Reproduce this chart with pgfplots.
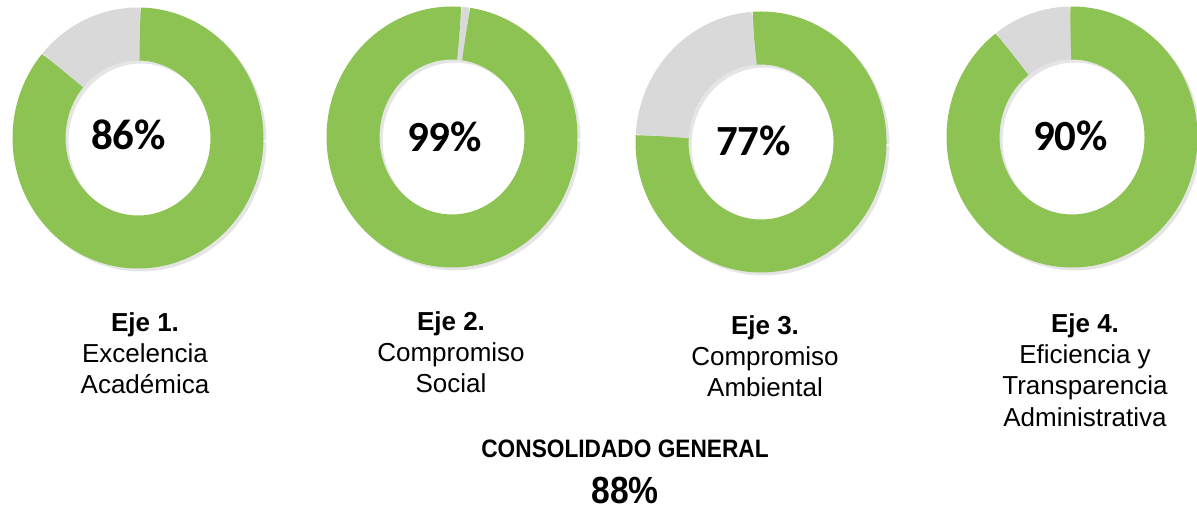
\documentclass[border=0pt]{standalone}
\usepackage{pgfplots}
\pgfplotsset{compat=1.18}
\usepackage{graphicx}
\usepackage{fontspec}
\setmainfont{Liberation Sans}
\newfontfamily\calib{Carlito}
\definecolor{ringgreen}{RGB}{141,195,82}
\definecolor{ringgray}{RGB}{217,217,217}

% one donut: centre x, centre y, value (%), start angle
\newcommand\donut[4]{%
  \addplot[domain=0:100, samples=120, line width=26.5pt, black, opacity=0.10, line join=round]
    ({#1+3+99*cos(3.6*x)}, {#2-3+104*sin(3.6*x)});
  \addplot[domain=0:#3, samples=150, line width=26.5pt, ringgreen]
    ({#1+99*cos(#4-3.6*x)}, {#2+104*sin(#4-3.6*x)});
  \addplot[domain=#3:100, samples=30, line width=26.5pt, ringgray]
    ({#1+99*cos(#4-3.6*x)}, {#2+104*sin(#4-3.6*x)});
}

\begin{document}
\begin{tikzpicture}
\useasboundingbox (0,0) rectangle (598.5pt,254pt);
\begin{axis}[
  at={(0,0)}, anchor=south west,
  scale only axis, width=598.5pt, height=254pt,
  xmin=0, xmax=1197, ymin=0, ymax=508,
  hide axis, clip=false,
]
\donut{138}{370}{86}{89}
\donut{452}{371}{99}{82}
\donut{761}{366}{77}{94}
\donut{1072}{371}{90}{91}

% centre values
\node[anchor=base, font=\calib\bfseries\fontsize{21.5}{24}\selectfont] at (axis cs:128.5,358) {86\%};
\node[anchor=base, font=\calib\bfseries\fontsize{21.5}{24}\selectfont] at (axis cs:444.5,356) {99\%};
\node[anchor=base, font=\calib\bfseries\fontsize{21.5}{24}\selectfont] at (axis cs:753.5,352) {77\%};
\node[anchor=base, font=\calib\bfseries\fontsize{21.5}{24}\selectfont] at (axis cs:1070.5,357) {90\%};

% axis labels
\tikzset{lab/.style={anchor=base, inner sep=0pt, font=\fontsize{13}{15}\selectfont}}
\node[lab, font=\bfseries\fontsize{13}{15}\selectfont] at (axis cs:145,176) {Eje 1.};
\node[lab] at (axis cs:145,145) {Excelencia};
\node[lab] at (axis cs:145,114) {Académica};

\node[lab, font=\bfseries\fontsize{13}{15}\selectfont] at (axis cs:451,177) {Eje 2.};
\node[lab] at (axis cs:451,146) {Compromiso};
\node[lab] at (axis cs:451,115) {Social};

\node[lab, font=\bfseries\fontsize{13}{15}\selectfont] at (axis cs:765,173) {Eje 3.};
\node[lab] at (axis cs:765,142) {Compromiso};
\node[lab] at (axis cs:765,111) {Ambiental};

\node[lab, font=\bfseries\fontsize{13}{15}\selectfont] at (axis cs:1085,175) {Eje 4.};
\node[lab] at (axis cs:1085,144) {Eficiencia y};
\node[lab] at (axis cs:1085,113) {Transparencia};
\node[lab] at (axis cs:1085,82) {Administrativa};

% overall
\node[anchor=base, inner sep=0pt, font=\bfseries\fontsize{12.6}{14}\selectfont] at (axis cs:625,51) {\scalebox{0.9}[1]{CONSOLIDADO GENERAL}};
\node[anchor=base, inner sep=0pt, font=\bfseries\fontsize{18.9}{21}\selectfont] at (axis cs:625,5) {\scalebox{0.89}[1]{88\%}};
\end{axis}
\end{tikzpicture}
\end{document}
